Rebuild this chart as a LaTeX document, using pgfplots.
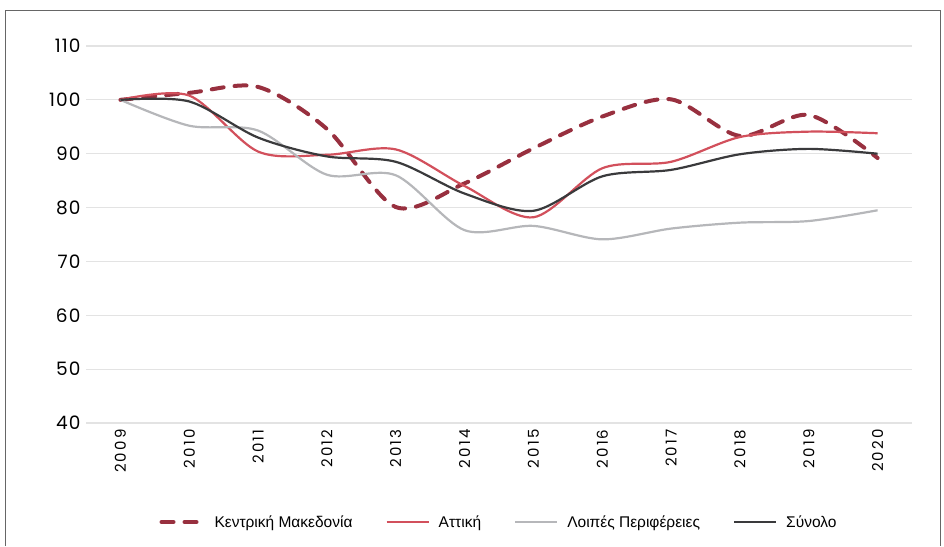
\documentclass[border=0pt]{standalone}
\usepackage{pgfplots}
\pgfplotsset{compat=1.18}
\usepackage{fontspec}
\setmainfont{Liberation Sans}
\newfontfamily\tickfont[LetterSpace=14]{Poppins}
\newfontfamily\ytickfont[LetterSpace=6]{Poppins}
\definecolor{cmak}{HTML}{98303F}
\definecolor{catt}{HTML}{D2505C}
\definecolor{cloi}{HTML}{B6B7BA}
\definecolor{csyn}{HTML}{3A3A3C}
\definecolor{cgrid}{HTML}{E3E3E3}
\begin{document}
\begin{tikzpicture}[x=1pt,y=1pt]
\begin{axis}[
  scale only axis, width=826pt, height=377pt,
  at={(0,0)}, anchor=south west,
  xmin=-0.5, xmax=11.5, ymin=40, ymax=110,
  xtick={0,...,11},
  xticklabels={2009,2010,2011,2012,2013,2014,2015,2016,2017,2018,2019,2020},
  x tick label style={rotate=90, anchor=east, font=\tickfont\fontsize{15}{15}\selectfont, xshift=-3pt},
  ytick={40,50,...,110},
  y tick label style={font=\ytickfont\fontsize{18.5}{18.5}\selectfont, xshift=-2pt},
  /pgf/number format/assume math mode=true,
  axis line style={draw=none},
  major tick length=0pt,
  ymajorgrids, grid style={cgrid, line width=1.2pt},
  legend columns=4,
  legend style={draw=none, at={(0.5,-0.2626)}, anchor=center,
    font=\fontsize{15.5}{15.5}\selectfont,
    /tikz/every even column/.append style={column sep=31pt}},
  legend image code/.code={\draw[#1] (0pt,0pt) -- (42pt,0pt); \path (49pt,0pt);},
  clip=false,
]
\addplot[cmak, line width=4pt, dash pattern=on 12pt off 11pt, line cap=round, smooth] coordinates {
(0,100) (1,101.3) (2,102.4) (3,94.6) (4,80.1) (5,84.5) (6,91) (7,96.9) (8,100.1) (9,93.3) (10,97.2) (11,89.2)};
\addlegendentry{Κεντρική Μακεδονία}
\addplot[catt, line width=2.2pt, smooth] coordinates {
(0,100) (1,100.8) (2,90.4) (3,89.8) (4,90.8) (5,84) (6,78.2) (7,87.3) (8,88.5) (9,93.1) (10,94.1) (11,93.8)};
\addlegendentry{Αττική}
\addplot[cloi, line width=2.2pt, smooth] coordinates {
(0,100) (1,95.2) (2,94.3) (3,86.1) (4,86) (5,75.8) (6,76.6) (7,74.1) (8,76.1) (9,77.2) (10,77.5) (11,79.5)};
\addlegendentry{Λοιπές Περιφέρειες}
\addplot[csyn, line width=2.2pt, smooth] coordinates {
(0,100) (1,99.7) (2,93) (3,89.5) (4,88.5) (5,82.6) (6,79.4) (7,85.8) (8,87) (9,89.9) (10,90.9) (11,90)};
\addlegendentry{Σύνολο}
\end{axis}
\draw[gray!80!black, line width=0.8pt] (-81,-123) -- (-81,413) -- (854,413) -- (854,-123);
\path[use as bounding box] (-86,-123) rectangle (858,423);
\end{tikzpicture}
\end{document}
